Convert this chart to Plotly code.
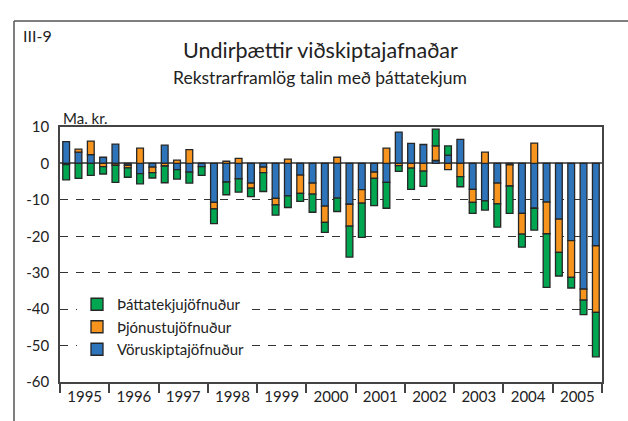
import plotly.graph_objects as go

years = ["1995", "1996", "1997", "1998", "1999", "2000", "2001", "2002", "2003", "2004", "2005"]
quarters_per_year = 4

# Vöruskiptajöfnuður (blue)
voruskipti = [6.0, 3.1, 2.4, 1.7,
              5.3, -0.5, -2.8, -1.0,
              5.0, -1.7, -2.4, -0.9,
              -10.7, -5.1, -4.2, -5.4,
              -1.0, -9.6, -8.9, -3.2,
              -5.4, -11.7, -9.5, -11.2,
              -7.2, -2.4, -5.2, 8.6,
              5.5, 5.2, 0.8, 2.3,
              6.6, -7.1, -10.3, -5.4,
              -0.4, -13.7, -12.3, -10.6,
              -15.3, -21.2, -34.5, -22.6]

# Þjónustujöfnuður (orange)
thjonustu = [-0.3, 0.8, 3.7, -0.9,
             -0.5, -0.7, 4.2, -1.5,
             -0.7, 0.9, 3.8, 0.0,
             -1.8, 0.6, 1.4, -1.4,
             -1.5, -1.8, 1.2, -5.0,
             -3.0, -4.5, 1.7, -6.0,
             -3.7, -1.7, 4.2, -0.6,
             -1.3, -2.1, 4.0, -1.7,
             -3.6, -3.6, 3.1, -5.7,
             -5.8, -5.7, 5.6, -8.7,
             -9.1, -10.1, -3.0, -18.3]

# Þáttatekjujöfnuður (green)
thattatekju = [-4.2, -4.1, -3.3, -2.0,
               -4.7, -2.6, -2.8, -1.5,
               -4.6, -2.6, -3.0, -2.4,
               -4.0, -3.5, -3.7, -2.3,
               -5.2, -2.8, -3.2, -2.2,
               -5.0, -2.7, -3.7, -8.5,
               -9.4, -7.5, -7.1, -1.6,
               -5.8, -4.2, 4.6, 2.5,
               -2.8, -3.0, -2.5, -6.4,
               -7.5, -3.6, -6.0, -14.7,
               -6.5, -2.9, -4.0, -12.2]

y_ticks = [10, 0, -10, -20, -30, -40, -50, -60]

FONT = "Lato"
TXT = "#222222"

W, H = 628, 421
L, R, T, B = 60, 26, 127, 39
PW, PH = W - L - R, H - T - B


def px(x):
    return (x - L) / PW


def py(y):
    return (H - B - y) / PH


n = len(voruskipti)
xpos = list(range(n))
year_centers = [i * quarters_per_year + 1.5 for i in range(len(years))]
year_bounds = [i * quarters_per_year - 0.5 for i in range(len(years) + 1)]

fig = go.Figure()
outline = dict(color="#262626", width=1.3)
fig.add_trace(go.Bar(x=xpos, y=voruskipti, name="Vöruskiptajöfnuður",
                     marker=dict(color="#2e74ba", line=outline), width=0.55))
fig.add_trace(go.Bar(x=xpos, y=thjonustu, name="Þjónustujöfnuður",
                     marker=dict(color="#f7941d", line=outline), width=0.55))
fig.add_trace(go.Bar(x=xpos, y=thattatekju, name="Þáttatekjujöfnuður",
                     marker=dict(color="#00a650", line=outline), width=0.55))

fig.update_layout(
    width=W, height=H,
    margin=dict(l=L, r=R, t=T, b=B),
    paper_bgcolor="white", plot_bgcolor="white",
    barmode="relative",
    font=dict(family=FONT, size=15, color=TXT),
    showlegend=True,
    legend=dict(traceorder="reversed", x=px(77), y=py(288), xanchor="left", yanchor="top",
                bgcolor="white", font=dict(size=15, color=TXT), tracegroupgap=0,
                itemwidth=30),
    xaxis=dict(range=[-0.5, n - 0.5], tickmode="array", tickvals=year_centers, ticktext=years,
               ticks="", showgrid=False, showline=True, linecolor="#444", linewidth=1.5,
               mirror=True, zeroline=False, tickfont=dict(size=15, color=TXT),
               minor=dict(tickmode="array", tickvals=year_bounds, ticks="outside", ticklen=9,
                          tickcolor="#444", tickwidth=1.5, showgrid=False)),
    yaxis=dict(range=[-60, 10], tickmode="array", tickvals=y_ticks,
               ticktext=[str(v) for v in y_ticks], ticks="",
               showgrid=True, gridcolor="#333", gridwidth=1.2, griddash="8px,8px",
               zeroline=True, zerolinecolor="#666", zerolinewidth=2,
               showline=True, linecolor="#444", linewidth=1.5, mirror=True,
               tickfont=dict(size=15, color=TXT), ticklabelstandoff=6),
)

# outer frame: left and top edges (right/bottom edges are off the page)
fig.add_shape(type="line", xref="paper", yref="paper", layer="above",
              x0=px(14), x1=px(W + 10), y0=py(21), y1=py(21),
              line=dict(color="#555555", width=1.5))
fig.add_shape(type="line", xref="paper", yref="paper", layer="above",
              x0=px(14), x1=px(14), y0=py(H + 10), y1=py(21),
              line=dict(color="#555555", width=1.5))

fig.add_annotation(text="III-9", xref="paper", yref="paper", x=px(21), y=py(36),
                   xanchor="left", yanchor="middle", showarrow=False, font=dict(size=16, color=TXT))
fig.add_annotation(text="Undirþættir viðskiptajafnaðar", xref="paper", yref="paper",
                   x=px(320), y=py(50), xanchor="center", yanchor="middle",
                   showarrow=False, font=dict(size=21.5, color=TXT))
fig.add_annotation(text="Rekstrarframlög talin með þáttatekjum", xref="paper", yref="paper",
                   x=px(320), y=py(77), xanchor="center", yanchor="middle",
                   showarrow=False, font=dict(size=17.5, color=TXT))
fig.add_annotation(text="Ma. kr.", xref="paper", yref="paper", x=px(61), y=py(118),
                   xanchor="left", yanchor="middle", showarrow=False, font=dict(size=15, color=TXT))

fig.write_html("out.html", config={"displayModeBar": False},
               post_script="document.body.style.margin='0';")
